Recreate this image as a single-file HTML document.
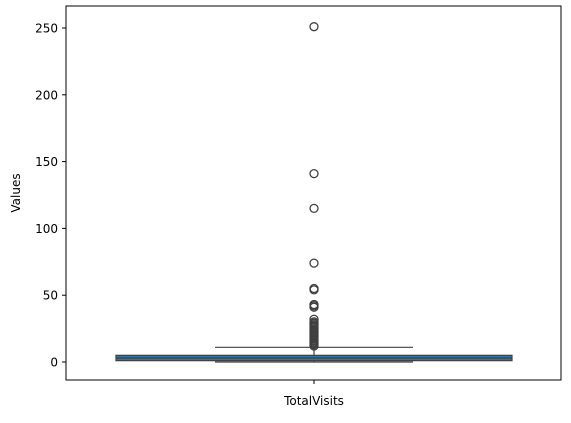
<!DOCTYPE html>
<html><head><meta charset="utf-8"><style>
body{margin:0;background:#fff;}
svg text{font-family:"DejaVu Sans","Liberation Sans",sans-serif;font-size:12px;fill:#000;}
</style></head><body>
<svg id="chart" width="571" height="418">
<rect x="0" y="0" width="571" height="418" fill="#fff"/>
<g id="marks"></g>
<g id="axes"></g>
<rect x="66" y="6" width="495" height="374" fill="none" stroke="#000" stroke-width="1"/>
<text x="20" y="193" transform="rotate(-90 20 193)" text-anchor="middle">Values</text>
</svg>
<script>
const category = ["TotalVisits"];
const q1 = [1];
const median = [3];
const q3 = [5];
const whiskerLow = [0];
const whiskerHigh = [11];
const outliers = [12,13,14,15,16,17,18,19,20,21,22,23,24,25,26,27,28,29,30,32,41,42,43,54,55,74,115,141,251];
const yTicks = [0,50,100,150,200,250];

const ns="http://www.w3.org/2000/svg";
const y = v => 362 - v*(362-28)/250;
const x = i => 314;
const marks=document.getElementById('marks'), axes=document.getElementById('axes');
function mk(tag,attrs,parent){const e=document.createElementNS(ns,tag);for(const k in attrs)e.setAttribute(k,attrs[k]);parent.appendChild(e);return e;}

yTicks.forEach(t=>{
  const l=mk('line',{x1:62,x2:66,y1:y(t),y2:y(t),stroke:'#000'},axes);
  
  
  const tx=mk('text',{x:58,y:y(t)+4.5,'text-anchor':'end'},axes);
  tx.textContent=t;
  
  
});
category.forEach((c,i)=>{
  const cx=x(i), hw=198, cw=99;
  const l=mk('line',{x1:cx,x2:cx,y1:380,y2:384,stroke:'#000'},axes);
  
  
  const tx=mk('text',{x:cx,y:405,'text-anchor':'middle'},axes);
  tx.textContent=c;
  
  
  const w1=mk('line',{x1:cx,x2:cx,y1:y(q3[i]),y2:y(whiskerHigh[i]),stroke:'#3f3f3f','stroke-width':1.2},marks);
  
  
  const w2=mk('line',{x1:cx,x2:cx,y1:y(q1[i]),y2:y(whiskerLow[i]),stroke:'#3f3f3f','stroke-width':1.2},marks);
  
  
  const c1=mk('line',{x1:cx-cw,x2:cx+cw,y1:y(whiskerHigh[i]),y2:y(whiskerHigh[i]),stroke:'#3f3f3f','stroke-width':1.2},marks);
  
  
  const c2=mk('line',{x1:cx-cw,x2:cx+cw,y1:y(whiskerLow[i]),y2:y(whiskerLow[i]),stroke:'#3f3f3f','stroke-width':1.2},marks);
  
  
  const b=mk('rect',{x:cx-hw,y:y(q3[i]),width:2*hw,height:y(q1[i])-y(q3[i]),fill:'#3274a1',stroke:'#3f3f3f','stroke-width':1.2},marks);
  
  
  const m=mk('line',{x1:cx-hw,x2:cx+hw,y1:y(median[i]),y2:y(median[i]),stroke:'#3f3f3f','stroke-width':1.2},marks);
  
  
  outliers.forEach(v=>{
    const o=mk('circle',{cx:cx,cy:y(v),r:4,fill:'none',stroke:'#3f3f3f','stroke-width':1.3},marks);
    
    
  });
});
</script>
</body></html>
